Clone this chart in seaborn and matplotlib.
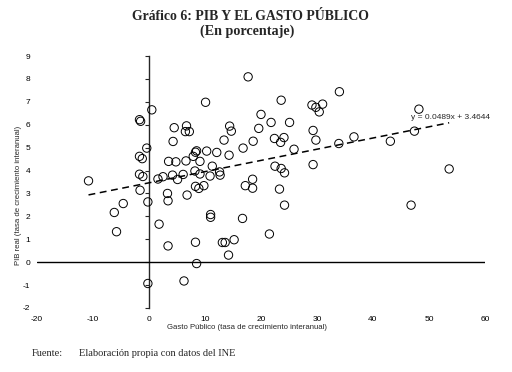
import matplotlib
matplotlib.use("Agg")
import matplotlib.pyplot as plt
import seaborn as sns
import numpy as np
import pandas as pd

# Gasto publico (tasa de crecimiento interanual, %)
gasto = [-10.8, -6.2, -4.6, -5.8, -1.7, -1.5, 0.5, -0.4, -1.7, -1.2,
         -1.7, -1.1, -1.6, -0.2, -0.2,
         1.6, 2.5, 1.8, 3.4, 3.5, 4.8, 4.2, 5.1, 6.1, 4.3,
         4.5, 6.7, 6.5, 7.2, 6.6, 7.9, 8.3, 8.2, 9.1, 9.1,
         8.5, 3.3, 3.4, 6.8, 8.3, 8.9, 9.8, 8.3, 8.5, 6.25, 10.1,
         10.3, 12.1, 14.3, 11.3, 12.6, 12.7, 10.9, 11.0, 11.0, 13.1,
         13.6, 15.2, 14.2, 16.7, 13.4, 14.4, 14.7, 16.8, 18.6, 19.6,
         17.7, 17.2, 18.5, 18.5,
         20.0, 21.8, 25.1, 23.6, 22.4, 23.5, 24.1, 25.9, 22.5, 23.6,
         24.2, 23.3, 24.2, 21.5, 29.1, 29.8, 31.0, 30.4, 29.3, 29.8, 29.3,
         34.0, 33.9, 36.6, 43.1, 47.4, 48.2, 53.6, 46.8]

# PIB real (tasa de crecimiento interanual, %)
pib = [3.55, 2.17, 2.56, 1.33, 6.22, 6.15, 6.65, 4.98, 4.62, 4.52,
       3.84, 3.74, 3.14, 2.63, -0.93,
       3.63, 3.73, 1.66, 0.71, 4.40, 4.38, 3.80, 3.61, 3.83, 5.27,
       5.87, 5.95, 5.70, 5.70, 4.42, 4.62, 4.80, 3.98, 3.85, 4.40,
       4.86, 3.00, 2.68, 2.93, 3.31, 3.22, 3.34, 0.87, -0.06, -0.82, 6.98,
       4.85, 4.79, 4.67, 4.19, 3.94, 3.80, 3.76, 2.08, 1.96, 0.86,
       0.86, 0.98, 0.31, 1.91, 5.33, 5.94, 5.72, 4.98, 5.28, 5.84,
       8.09, 3.34, 3.62, 3.23,
       6.45, 6.10, 6.10, 7.07, 5.40, 5.23, 5.44, 4.93, 4.19, 4.09,
       3.90, 3.19, 2.49, 1.23, 6.86, 6.76, 6.90, 6.56, 5.75, 5.33, 4.26,
       7.44, 5.18, 5.47, 5.28, 5.72, 6.68, 4.07, 2.49]

# linea de tendencia del grafico original
pendiente = 0.0489
intercepto = 3.4644
etiqueta_tendencia = "y = 0.0489x + 3.4644"

x_ticks = list(range(-20, 61, 10))
y_ticks = list(range(-2, 10))

df = pd.DataFrame({"gasto": gasto, "pib": pib})

sns.set_style("white")
plt.rcParams["font.family"] = ["Liberation Sans", "DejaVu Sans"]
plt.rcParams["axes.unicode_minus"] = False

fig = plt.figure(figsize=(5.12, 3.72), dpi=100)
ax = fig.add_axes([37 / 512, 64 / 372, 448 / 512, 252 / 372])

sns.scatterplot(data=df, x="gasto", y="pib", ax=ax, marker="o", s=36,
                fc="none", ec="black", linewidth=0.7, zorder=3)

# linea de tendencia lineal
xs = np.array([df["gasto"].min(), df["gasto"].max()])
sns.lineplot(x=xs, y=pendiente * xs + intercepto, ax=ax, color="black",
             linewidth=1.1, linestyle=(0, (4.5, 3)))
ax.text(46.8, 6.33, etiqueta_tendencia, fontsize=6, ha="left", va="center")

ax.set_xlim(-20, 60)
ax.set_ylim(-2, 9)
ax.set_xticks(x_ticks)
ax.set_yticks(y_ticks)
for s in ax.spines.values():
    s.set_visible(False)
ax.tick_params(length=0, labelsize=6, colors="black")
ax.tick_params(axis="y", pad=5)
ax.tick_params(axis="x", pad=6)

# ejes que se cruzan en el origen
ax.axhline(0, color="black", linewidth=1)
eje_y = ax.secondary_yaxis(0.25)
eje_y.set_yticks(y_ticks)
eje_y.tick_params(labelleft=False, length=3, width=0.8, direction="out")
eje_y.spines["left"].set_linewidth(1)

ax.set_xlabel("Gasto Público (tasa de crecimiento interanual)", fontsize=5.6)
ax.xaxis.set_label_coords(0.469, -0.062)
ax.set_ylabel("PIB real (tasa de crecimiento interanual)", fontsize=5.6)
ax.yaxis.set_label_coords(-0.033, 0.446)

fig.text(0.49, 1 - 17 / 372, "Gráfico 6: PIB Y EL GASTO PÚBLICO",
         family="Liberation Serif", fontweight="bold", fontsize=9.9,
         ha="center", va="center")
fig.text(0.483, 1 - 31 / 372, "(En porcentaje)",
         family="Liberation Serif", fontweight="bold", fontsize=10.2,
         ha="center", va="center")
fig.text(32 / 512, 1 - 354 / 372, "Fuente:", family="Liberation Serif",
         fontsize=7.5, ha="left", va="center")
fig.text(79 / 512, 1 - 354 / 372, "Elaboración propia con datos del INE",
         family="Liberation Serif", fontsize=7.5, ha="left", va="center")

fig.savefig("out.png", dpi=100, facecolor="white")
